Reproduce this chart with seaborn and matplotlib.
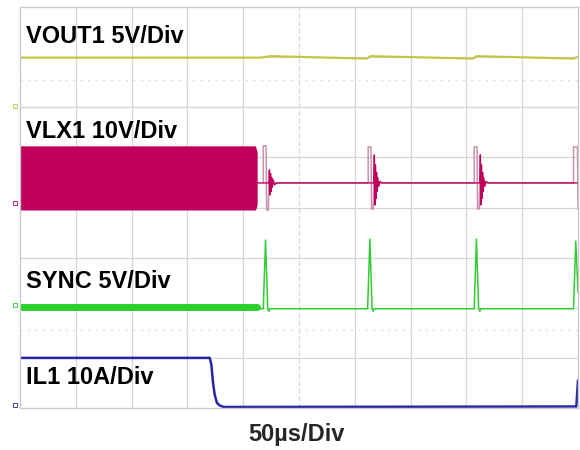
import numpy as np
import pandas as pd
import seaborn as sns
import matplotlib
matplotlib.use('Agg')
import matplotlib.pyplot as plt

sns.set_style('white')
plt.rcParams['font.family'] = ['Liberation Sans', 'DejaVu Sans']

# time in divisions (50us/div), amplitude in screen divisions (0 = bottom, 8 = top)
vout_t = [0.0, 4.30, 4.50, 6.22, 6.28, 8.12, 8.18, 9.92, 10.0]
vout_v = [6.99, 6.99, 7.02, 6.97, 7.02, 6.97, 7.02, 6.97, 7.01]

# VLX1 switching band (too dense to resolve) + pulse skip part
vlx_band_t = [0.0, 4.22, 4.25]
vlx_band_hi = [5.23, 5.23, 5.10]
vlx_band_lo = [3.95, 3.95, 4.05]
# baseline + ringing after each pulse
vlx_t = [4.25, 4.46, 4.47, 4.48, 4.49, 4.50, 4.51, 4.52, 4.54, 4.56, 4.60,
         6.34, 6.35, 6.36, 6.37, 6.38, 6.39, 6.40, 6.41, 6.43, 6.45, 6.49,
         8.24, 8.25, 8.26, 8.27, 8.28, 8.29, 8.30, 8.31, 8.33, 8.35, 8.39,
         10.0]
vlx_v = [4.49, 4.49, 4.75, 4.25, 4.68, 4.32, 4.60, 4.40, 4.55, 4.45, 4.49,
         4.49, 5.05, 4.05, 4.85, 4.18, 4.70, 4.32, 4.60, 4.42, 4.52, 4.49,
         4.49, 5.05, 4.05, 4.85, 4.18, 4.70, 4.32, 4.60, 4.42, 4.52, 4.49,
         4.49]
# fast pulse edges (faint on the scope)
edge_t = [4.36, 4.36, 4.41, 4.42, 4.45, 4.46,
          6.24, 6.24, 6.29, 6.30, 6.33, 6.34,
          8.14, 8.14, 8.19, 8.20, 8.23, 8.24,
          9.92, 9.92, 9.99, 10.0]
edge_v = [4.49, 5.23, 5.23, 3.95, 3.95, 4.49,
          4.49, 5.21, 5.21, 3.97, 3.97, 4.49,
          4.49, 5.21, 5.21, 3.97, 3.97, 4.49,
          4.49, 5.21, 5.21, 3.97]

# SYNC: noisy band while switching, then narrow pulses
sync_band_t = [0.0, 4.25]
sync_band_v = [2.02, 2.02]
sync_t = [4.25, 4.36, 4.40, 4.44, 4.46, 4.48,
          6.23, 6.27, 6.31, 6.33, 6.35,
          8.14, 8.18, 8.22, 8.24, 8.26,
          9.92, 9.96, 10.0]
sync_v = [1.98, 1.98, 3.35, 1.98, 1.93, 1.98,
          1.98, 3.37, 1.98, 1.93, 1.98,
          1.98, 3.37, 1.98, 1.93, 1.98,
          1.98, 3.33, 2.30]

il_t = [0.0, 3.40, 3.43, 3.46, 3.49, 3.53, 3.58, 3.65, 9.97, 10.0]
il_v = [1.0, 1.0, 0.86, 0.50, 0.26, 0.10, 0.05, 0.02, 0.03, 0.55]

labels = ['VOUT1 5V/Div', 'VLX1 10V/Div', 'SYNC 5V/Div', 'IL1 10A/Div']
label_y = [7.29, 5.39, 2.40, 0.48]
xlabel = '50\u00b5s/Div'

c_vout = '#c4c43c'
c_vlx = '#c0005a'
c_edge = '#c993ad'
c_sync = '#33cc33'
c_il = '#2626a6'

fig = plt.figure(figsize=(5.8, 4.5), dpi=100)
ax = fig.add_axes([20/580, 42/450, 558/580, 401/450])
ax.set_xlim(0, 10)
ax.set_ylim(0, 8)

# scope graticule
for gx in range(1, 10):
    ax.axvline(gx, color='#d6d6d6', lw=0.9, zorder=0, ls=(0, (4, 2)) if gx == 5 else '-')
for gy in range(1, 8):
    ax.axhline(gy, color='#d6d6d6', lw=0.9, zorder=0)
for gy in [6.54, 1.56]:
    ax.axhline(gy, color='#e2e2e2', lw=0.9, ls=(0, (2, 4)), zorder=0)
ax.set_xticks([])
ax.set_yticks([])
for s in ax.spines.values():
    s.set_color('#c8c8c8')
    s.set_linewidth(1.0)

sns.lineplot(x=vout_t, y=vout_v, ax=ax, color=c_vout, lw=1.5, estimator=None, sort=False)
ax.fill_between(vlx_band_t, vlx_band_lo, vlx_band_hi, color=c_vlx, lw=0)
sns.lineplot(x=edge_t, y=edge_v, ax=ax, color=c_edge, lw=1.1, estimator=None, sort=False)
sns.lineplot(x=vlx_t, y=vlx_v, ax=ax, color=c_vlx, lw=1.0, estimator=None, sort=False)
sns.lineplot(x=sync_band_t, y=sync_band_v, ax=ax, color='#2ad02a', lw=5, estimator=None, sort=False)
sns.lineplot(x=sync_t, y=sync_v, ax=ax, color=c_sync, lw=1.1, estimator=None, sort=False)
sns.lineplot(x=il_t, y=il_v, ax=ax, color=c_il, lw=1.8, estimator=None, sort=False)

# channel ground markers at the left edge
for yy, cc in zip([6.03, 4.09, 2.05, 0.06], [c_vout, c_vlx, c_sync, c_il]):
    ax.plot([-0.09], [yy], marker='s', ms=2.5, mfc='none', mec=cc, mew=0.6, clip_on=False)

for txt, yy in zip(labels, label_y):
    ax.text(0.11, yy, txt, fontsize=17, fontweight='bold', color='black', va='baseline', ha='left')

fig.text(0.511, 0.02, xlabel, fontsize=17, fontweight='bold', ha='center', va='baseline')

fig.savefig('out.png', dpi=100)
